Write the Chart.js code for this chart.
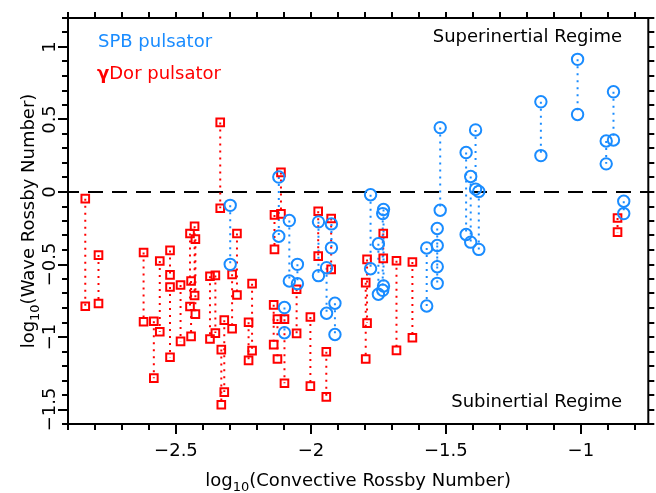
<!DOCTYPE html>
<html lang="en">
<head>
    <meta charset="UTF-8">
    <title>Rossby numbers</title>
    <script src="https://cdn.jsdelivr.net/npm/chart.js"></script>
    <style>
        body { margin: 0; background: #fff; }
        #wrap { width: 656px; height: 493px; }
    </style>
</head>
<body>
    <div id="wrap"><canvas id="rossby" width="656" height="493"></canvas></div>

    <script>
        // SPB pulsators: x, upper end, lower end of each pair
        const spbX   = [-2.299, -2.119, -2.080, -2.050, -2.098, -1.972, -1.942, -1.924, -1.911, -1.779, -1.731, -1.734, -1.750,
                        -1.521, -1.571, -1.532, -1.532, -1.425, -1.408, -1.390, -1.378, -1.148, -1.012, -0.879, -0.906, -0.841];
        const spbTop = [-0.092, 0.103, -0.197, -0.499, -0.797, -0.206, -0.522, -0.220, -0.767, -0.019, -0.121, -0.149, -0.357,
                        0.444, -0.386, -0.252, -0.369, 0.272, 0.107, 0.428, 0.004, 0.622, 0.915, 0.691, 0.352, -0.064];
        const spbBot = [-0.499, -0.305, -0.614, -0.632, -0.971, -0.577, -0.836, -0.385, -0.983, -0.529, -0.648, -0.678, -0.705,
                        -0.126, -0.786, -0.515, -0.630, -0.293, -0.346, 0.020, -0.396, 0.251, 0.535, 0.359, 0.194, -0.149];

        // gamma Dor pulsators
        const gdorX   = [-2.836, -2.787, -2.620, -2.582, -2.560, -2.522, -2.522, -2.483, -2.448, -2.431, -2.428, -2.444,
                         -2.374, -2.354, -2.336, -2.321, -2.332, -2.274, -2.292, -2.218, -2.231, -2.111, -2.135, -2.053,
                         -2.138, -2.124, -2.098, -2.002, -1.943, -1.973, -1.925, -1.732, -1.792, -1.797, -1.683, -1.624, -0.864];
        const gdorTop = [-0.046, -0.435, -0.417, -0.891, -0.476, -0.403, -0.655, -0.641, -0.286, -0.236, -0.325, -0.614,
                         -0.581, -0.575, 0.480, -0.884, -1.087, -0.286, -0.568, -0.632, -0.898, 0.135, -0.158, -0.671,
                         -0.778, -0.877, -0.877, -0.862, -1.102, -0.133, -0.183, -0.286, -0.465, -0.625, -0.474, -0.483, -0.179];
        const gdorBot = [-0.788, -0.769, -0.895, -1.284, -0.964, -0.572, -1.140, -1.030, -0.790, -0.714, -0.842, -0.996,
                         -1.014, -0.973, -0.112, -1.380, -1.467, -0.710, -0.943, -1.094, -1.161, -0.151, -0.396, -0.975,
                         -1.053, -1.152, -1.319, -1.339, -1.413, -0.442, -0.534, -0.458, -0.904, -1.152, -1.092, -1.005, -0.277];

        const xRange = [-2.9, -0.75];
        const yRange = [-1.6, 1.2];
        const xMajor = [-2.5, -2, -1.5, -1];
        const yMajor = [-1.5, -1, -0.5, 0, 0.5, 1];
        const xLabels = ['\u22122.5', '\u22122', '\u22121.5', '\u22121'];
        const yLabels = ['\u22121.5', '\u22121', '\u22120.5', '0', '0.5', '1'];

        const BLUE = '#1a8cff';
        const RED = '#ff0000';
        const FONT = '"DejaVu Sans", sans-serif';

        // minor ticks every 0.1
        function tenths(lo, hi) {
            const out = [];
            for (let k = Math.round(lo * 10); k <= Math.round(hi * 10); k++) out.push(k / 10);
            return out;
        }
        const xTicks = tenths(-2.9, -0.8);
        const yTicks = tenths(-1.6, 1.2);
        const isMajor = v => Math.abs(v * 2 - Math.round(v * 2)) < 1e-6;

        function ends(xs, a, b) {
            const pts = [];
            xs.forEach((x, i) => { pts.push({x: x, y: a[i]}, {x: x, y: b[i]}); });
            return pts;
        }
        function links(xs, a, b) {
            const pts = [];
            xs.forEach((x, i) => { pts.push({x: x, y: a[i]}, {x: x, y: b[i]}, {x: x, y: null}); });
            return pts;
        }

        // frame, ticks, tick labels, titles, annotations
        const axesPlugin = {
            id: 'axesPlugin',
            afterDraw(chart) {
                const {ctx, chartArea: a, scales: {x, y}} = chart;
                ctx.save();
                ctx.strokeStyle = '#000';
                ctx.fillStyle = '#000';
                ctx.lineWidth = 2;
                ctx.strokeRect(a.left, a.top, a.right - a.left, a.bottom - a.top);

                ctx.beginPath();
                xTicks.forEach(v => {
                    const p = Math.round(x.getPixelForValue(v));
                    ctx.moveTo(p, a.bottom); ctx.lineTo(p, a.bottom + (isMajor(v) ? 10 : 6));
                    ctx.moveTo(p, a.top); ctx.lineTo(p, a.top - 6);
                });
                yTicks.forEach(v => {
                    const p = Math.round(y.getPixelForValue(v));
                    ctx.moveTo(a.left, p); ctx.lineTo(a.left - (isMajor(v) ? 10 : 6), p);
                    ctx.moveTo(a.right, p); ctx.lineTo(a.right + 6, p);
                });
                ctx.stroke();

                ctx.font = '18px ' + FONT;
                ctx.textAlign = 'center';
                ctx.textBaseline = 'alphabetic';
                xMajor.forEach((v, i) => {
                    ctx.fillText(xLabels[i], x.getPixelForValue(v), 456);
                });
                yMajor.forEach((v, i) => {
                    ctx.save();
                    ctx.translate(55, y.getPixelForValue(v));
                    ctx.rotate(-Math.PI / 2);
                    ctx.fillText(yLabels[i], 0, 0);
                    ctx.restore();
                });

                // axis titles with subscript
                function subTitle(cx, base, pre, sub, post) {
                    ctx.font = '18px ' + FONT;
                    const w1 = ctx.measureText(pre).width;
                    const w3 = ctx.measureText(post).width;
                    ctx.font = '13px ' + FONT;
                    const w2 = ctx.measureText(sub).width;
                    let s = cx - (w1 + w2 + w3) / 2;
                    ctx.textAlign = 'left';
                    ctx.font = '18px ' + FONT;
                    ctx.fillText(pre, s, base);
                    ctx.font = '13px ' + FONT;
                    ctx.fillText(sub, s + w1, base + 5);
                    ctx.font = '18px ' + FONT;
                    ctx.fillText(post, s + w1 + w2, base);
                }
                subTitle((a.left + a.right) / 2, 486, 'log', '10', '(Convective Rossby Number)');
                ctx.save();
                ctx.translate(34, (a.top + a.bottom) / 2);
                ctx.rotate(-Math.PI / 2);
                subTitle(0, 0, 'log', '10', '(Wave Rossby Number)');
                ctx.restore();

                // legend
                ctx.textAlign = 'left';
                ctx.font = '18px ' + FONT;
                ctx.fillStyle = BLUE;
                ctx.fillText('SPB pulsator', 98, 47);
                ctx.fillStyle = RED;
                ctx.font = 'bold 18px ' + FONT;
                ctx.fillText('\u03b3', 97, 79);
                const gw = ctx.measureText('\u03b3').width;
                ctx.font = '18px ' + FONT;
                ctx.fillText('Dor pulsator', 97 + gw, 79);

                // regimes
                ctx.fillStyle = '#000';
                ctx.textAlign = 'right';
                ctx.fillText('Superinertial Regime', 622, 42);
                ctx.fillText('Subinertial Regime', 622, 407);
                ctx.restore();
            }
        };

        const ctx = document.getElementById('rossby').getContext('2d');
        new Chart(ctx, {
            type: 'scatter',
            data: {
                datasets: [
                    {
                        label: 'SPB pulsator',
                        data: ends(spbX, spbTop, spbBot),
                        pointStyle: 'circle',
                        pointRadius: 5.7,
                        borderWidth: 2,
                        borderColor: BLUE,
                        backgroundColor: 'rgba(0,0,0,0)'
                    },
                    {
                        label: 'gamma Dor pulsator',
                        data: ends(gdorX, gdorTop, gdorBot),
                        pointStyle: 'rect',
                        pointRadius: 5.4,
                        borderWidth: 2,
                        borderColor: RED,
                        backgroundColor: 'rgba(0,0,0,0)'
                    },
                    {
                        data: links(spbX, spbTop, spbBot),
                        showLine: true,
                        spanGaps: false,
                        pointRadius: 0,
                        borderColor: BLUE,
                        borderWidth: 2,
                        borderDash: [2, 5]
                    },
                    {
                        data: links(gdorX, gdorTop, gdorBot),
                        showLine: true,
                        spanGaps: false,
                        pointRadius: 0,
                        borderColor: RED,
                        borderWidth: 2,
                        borderDash: [2, 5]
                    },
                    {
                        data: [{x: xRange[0], y: 0}, {x: xRange[1], y: 0}],
                        showLine: true,
                        pointRadius: 0,
                        borderColor: '#000',
                        borderWidth: 2,
                        borderDash: [15, 9],
                        borderDashOffset: 4
                    }
                ]
            },
            options: {
                responsive: false,
                animation: false,
                events: [],
                layout: { padding: { left: 68, right: 6, top: 18, bottom: 69 } },
                scales: {
                    x: { type: 'linear', min: xRange[0], max: xRange[1], display: false },
                    y: { type: 'linear', min: yRange[0], max: yRange[1], display: false }
                },
                plugins: {
                    legend: { display: false },
                    tooltip: { enabled: false }
                }
            },
            plugins: [axesPlugin]
        });
    </script>
</body>
</html>
